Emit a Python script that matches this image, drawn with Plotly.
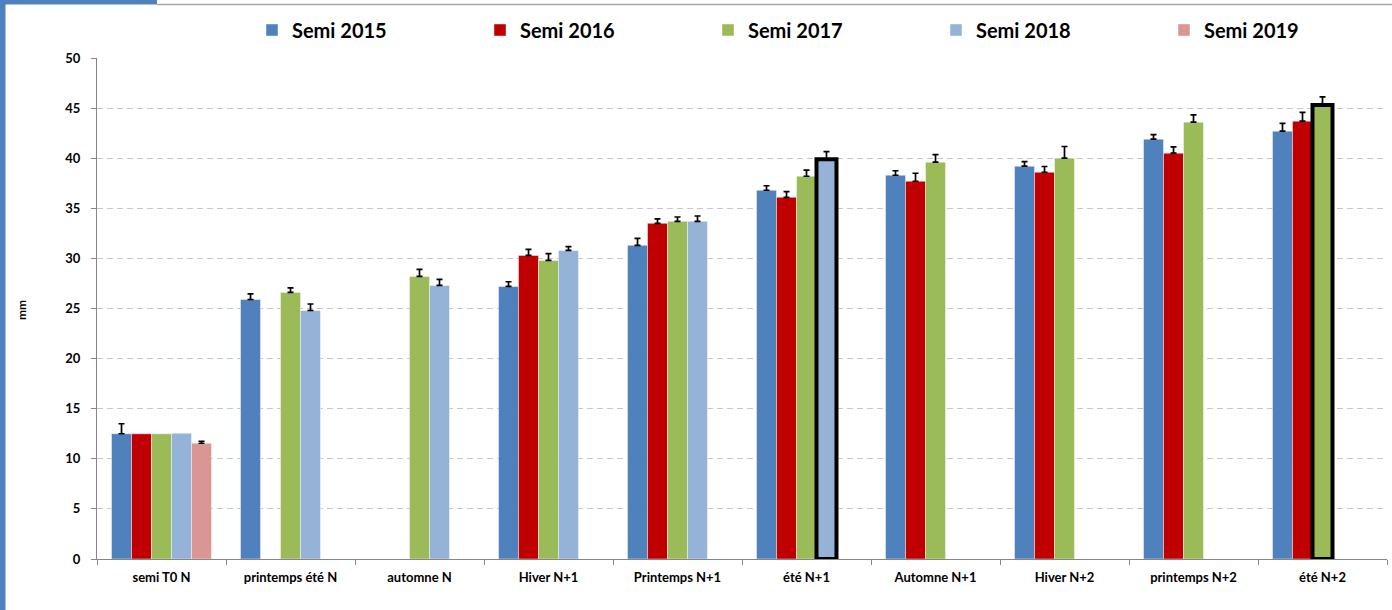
import plotly.graph_objects as go

# ---------------- data ----------------
categories = ["semi T0 N", "printemps été N", "automne N", "Hiver N+1", "Printemps N+1",
              "été N+1", "Automne N+1", "Hiver N+2", "printemps N+2", "été N+2"]

series_names = ["Semi 2015", "Semi 2016", "Semi 2017", "Semi 2018", "Semi 2019"]

semi_2015 = [12.5, 25.9, None, 27.2, 31.3, 36.8, 38.3, 39.2, 41.9, 42.7]
semi_2016 = [12.5, None, None, 30.3, 33.5, 36.1, 37.7, 38.6, 40.5, 43.7]
semi_2017 = [12.5, 26.6, 28.2, 29.8, 33.7, 38.2, 39.6, 40.0, 43.6, 45.3]
semi_2018 = [12.55, 24.8, 27.3, 30.8, 33.7, 39.9, None, None, None, None]
semi_2019 = [11.55, None, None, None, None, None, None, None, None, None]

err_2015 = [1.0, 0.55, None, 0.47, 0.7, 0.45, 0.45, 0.46, 0.46, 0.77]
err_2016 = [None, None, None, 0.6, 0.45, 0.57, 0.8, 0.57, 0.63, 0.87]
err_2017 = [None, 0.45, 0.7, 0.67, 0.43, 0.6, 0.75, 1.17, 0.73, 0.82]
err_2018 = [None, 0.65, 0.6, 0.37, 0.53, 0.75, None, None, None, None]
err_2019 = [0.2, None, None, None, None, None, None, None, None, None]

y_ticks = [0, 5, 10, 15, 20, 25, 30, 35, 40, 45, 50]
y_title = "mm"

# highlighted bars (thick black outline)
highlight = {"Semi 2018": "été N+1", "Semi 2017": "été N+2"}

# ---------------- style ----------------
colors = ["#4F81BD", "#C00000", "#9BBB59", "#95B3D7", "#D99694"]
values = [semi_2015, semi_2016, semi_2017, semi_2018, semi_2019]
errors = [err_2015, err_2016, err_2017, err_2018, err_2019]

FONT = "Lato, 'Open Sans', sans-serif"
W, H = 1392, 610
L, R, T, B = 97, 5, 58, 51
PW, PH = W - L - R, H - T - B


def px_x(p):
    return (p - L) / PW


def px_y(p):
    return (H - B - p) / PH


fig = go.Figure()
for i, (name, vals, errs, col) in enumerate(zip(series_names, values, errors, colors)):
    lw, lc = [], []
    for c in categories:
        if highlight.get(name) == c:
            lw.append(4)
            lc.append("black")
        else:
            lw.append(0.8)
            lc.append("rgba(255,255,255,0.55)")
    # non-numeric entries -> plotly.js skips the error bar entirely
    plus = [e if e is not None else "NaN" for e in errs]
    minus = [0 if e is not None else "NaN" for e in errs]
    fig.add_trace(go.Bar(
        name=name, x=categories, y=vals,
        marker=dict(color=col, line=dict(width=lw, color=lc)),
        error_y=dict(type="data", symmetric=False, array=plus, arrayminus=minus,
                     color="black", thickness=1.7, width=3),
        legendwidth=100 if i == len(series_names) - 1 else None,
    ))

fig.update_layout(
    width=W, height=H,
    margin=dict(l=L, r=R, t=T, b=B, pad=0, autoexpand=False),
    paper_bgcolor="white", plot_bgcolor="white",
    barmode="group", bargap=0.225, bargroupgap=0,
    font=dict(family=FONT, color="black"),
    legend=dict(
        orientation="h", xanchor="left", yanchor="middle",
        x=px_x(252), y=px_y(30),
        font=dict(family=FONT, size=20, color="black", weight="bold"),
        entrywidth=183, entrywidthmode="pixels",
        bgcolor="rgba(0,0,0,0)", itemclick=False,
    ),
    showlegend=True,
)

fig.update_xaxes(
    type="category", categoryorder="array", categoryarray=categories,
    showline=True, linecolor="#868686", linewidth=1.2,
    ticks="outside", tickson="boundaries", ticklen=5, tickcolor="#868686",
    tickfont=dict(family=FONT, size=13, color="black", weight="bold"),
    ticklabelstandoff=6,
    showgrid=False, zeroline=False,
)
fig.update_yaxes(
    range=[0, 50], tickvals=y_ticks,
    showline=True, linecolor="#868686", linewidth=1.2,
    ticks="outside", ticklen=5, tickcolor="#868686",
    tickfont=dict(family=FONT, size=13, color="black", weight="bold"),
    ticklabelstandoff=8,
    showgrid=True, gridcolor="#C8C8C8", gridwidth=1, griddash="6px,4px",
    zeroline=False,
)

# y axis title
fig.add_annotation(
    text=y_title, xref="paper", yref="paper", x=px_x(21), y=px_y(310),
    xanchor="center", yanchor="middle",
    textangle=-90, showarrow=False,
    font=dict(family=FONT, size=12, color="black", weight="bold"),
)

# chart frame decorations
fig.add_shape(type="rect", xref="paper", yref="paper",
              x0=px_x(0), x1=px_x(157), y0=px_y(0), y1=px_y(4.5),
              fillcolor="#4F81BD", line=dict(width=0), layer="above")
fig.add_shape(type="rect", xref="paper", yref="paper",
              x0=px_x(0), x1=px_x(5.5), y0=px_y(0), y1=px_y(H),
              fillcolor="#4F81BD", line=dict(width=0), layer="above")
fig.add_shape(type="line", xref="paper", yref="paper",
              x0=px_x(157), x1=px_x(W), y0=px_y(4.5), y1=px_y(4.5),
              line=dict(color="#A6A6A6", width=1.5), layer="above")

fig.write_html("out.html", config={"displayModeBar": False},
               post_script="document.body.style.margin='0';")
